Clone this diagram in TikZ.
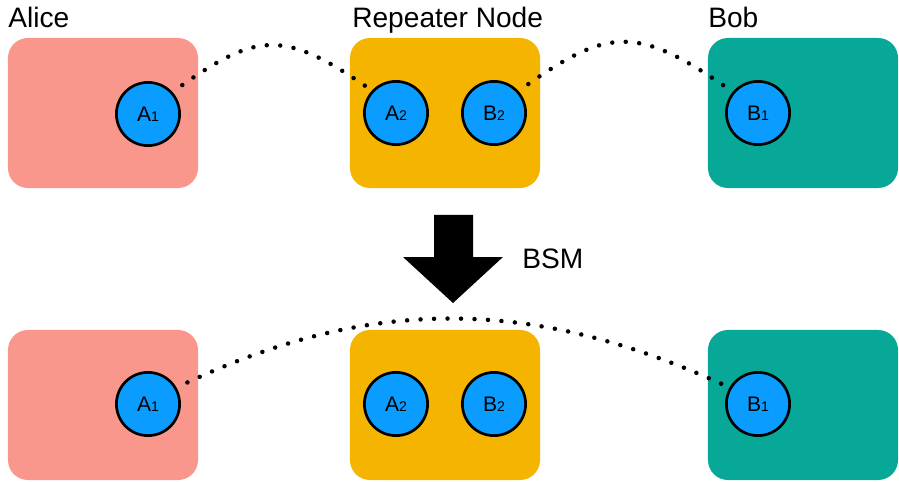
\documentclass[tikz,border=0pt]{standalone}
\usepackage{fontspec}
\setmainfont{Liberation Sans}
\usetikzlibrary{arrows.meta}
\definecolor{alicered}{HTML}{FA978C}
\definecolor{repeatergold}{HTML}{F4B400}
\definecolor{bobteal}{HTML}{07A898}
\definecolor{qubitblue}{HTML}{0A9DFF}
\newcommand{\qsub}[1]{{\fontsize{10}{11}\selectfont #1}}
\tikzset{
  labbox/.style={rectangle,rounded corners=0.5cm,minimum width=4.75cm,
    minimum height=3.75cm,inner sep=0pt},
  qubit/.style={circle,draw=black,line width=1.9pt,fill=qubitblue,
    minimum size=1.58cm,inner sep=0pt,font=\fontsize{15}{17}\selectfont},
  party/.style={font=\fontsize{20}{24}\selectfont,anchor=base west,inner sep=0pt},
  entangle/.style={line width=3.2pt,line cap=round,dash pattern=on 0pt off 9.6pt,
    shorten <=0.3cm}
}

\begin{document}
\begin{tikzpicture}[x=0.025cm,y=0.025cm]
\useasboundingbox (0,0) rectangle (899,481);

% before the swap
\node[labbox, fill=alicered] (alicetop) at (103,368) {};
\node[labbox, fill=repeatergold] (reptop) at (445,368) {};
\node[labbox, fill=bobteal] (bobtop) at (803,368) {};
\node[qubit] (a1top) at (148,367) {A\qsub{1}};
\node[qubit] (a2top) at (396,368) {A\qsub{2}};
\node[qubit] (b2top) at (494,368) {B\qsub{2}};
\node[qubit] (b1top) at (758,368) {B\qsub{1}};

\node[party] (alice) at (8,453) {Alice};
\node[party] (repeater) at (352,453) {Repeater Node};
\node[party] (bob) at (708,453) {Bob};

\draw[entangle] (a1top.42) to[out=35, in=145, looseness=1.35] (a2top.137);
\draw[entangle] (b2top.42) to[out=35, in=145, looseness=1.35] (b1top.140);

% Bell state measurement
\fill[black] (434,266) -- (473,266) -- (473,224) -- (503,224) -- (453,178)
  -- (403,224) -- (434,224) -- cycle;
\node[party] (bsm) at (522,213) {BSM};

% after the swap
\node[labbox, fill=alicered] (alicebot) at (103,76) {};
\node[labbox, fill=repeatergold] (repbot) at (445,76) {};
\node[labbox, fill=bobteal] (bobbot) at (803,76) {};
\node[qubit] (a1bot) at (148,77) {A\qsub{1}};
\node[qubit] (a2bot) at (396,77) {A\qsub{2}};
\node[qubit] (b2bot) at (494,77) {B\qsub{2}};
\node[qubit] (b1bot) at (758,77) {B\qsub{1}};

\draw[entangle] (a1bot.30) to[out=25, in=155] (b1bot.150);
\end{tikzpicture}
\end{document}
